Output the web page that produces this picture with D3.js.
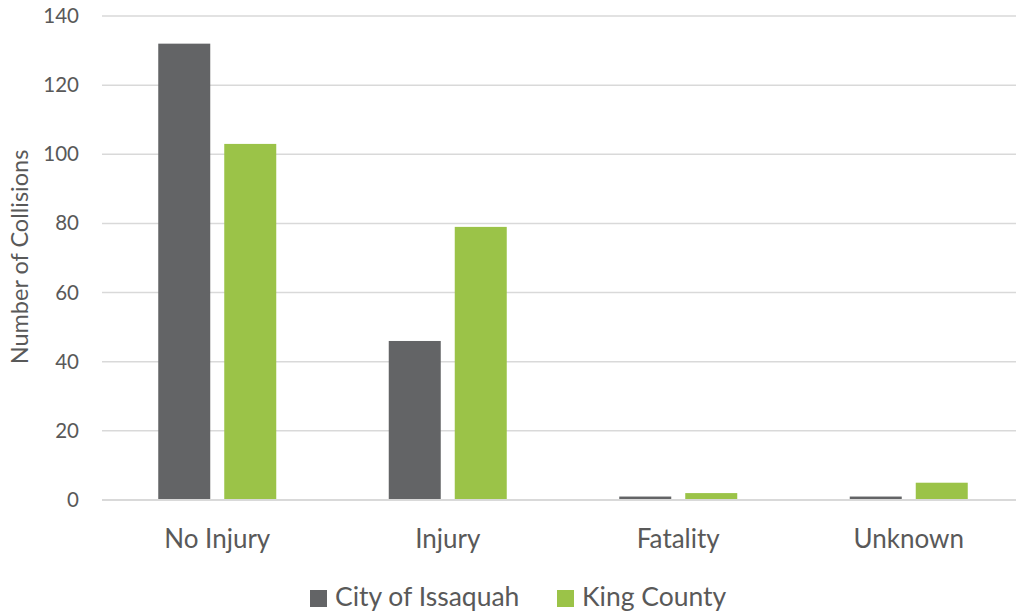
<!DOCTYPE html>
<html>
<head>
<meta charset="utf-8">
<script src="https://cdn.jsdelivr.net/npm/d3@7"></script>
<style>
  body { margin: 0; background: #fff; }
  text { font-family: Lato, "Open Sans", sans-serif; fill: #595959; }
</style>
</head>
<body>
<svg width="1016" height="614"></svg>
<script>
var categories = ["No Injury", "Injury", "Fatality", "Unknown"];
var seriesNames = ["City of Issaquah", "King County"];
var cityValues = [132, 46, 1, 1];
var kingValues = [103, 79, 2, 5];
var yTicks = [0, 20, 40, 60, 80, 100, 120, 140];
var colors = ["#636466", "#9bc348"];

var svg = d3.select("svg");

var x = d3.scaleBand()
    .domain(categories)
    .range([102, 1024]);

var y = d3.scaleLinear()
    .domain([0, 140])
    .range([500, 16]);

var barW = 52, innerGap = 14;

// gridlines
svg.append("g")
    .selectAll("line")
    .data(yTicks.filter(function(d) { return d > 0; }))
    .enter().append("line")
    .attr("x1", 102).attr("x2", 1016)
    .attr("y1", function(d) { return y(d); })
    .attr("y2", function(d) { return y(d); })
    .attr("stroke", "#d9d9d9")
    .attr("stroke-width", 1.5);

// y tick labels
svg.append("g")
    .selectAll("text")
    .data(yTicks)
    .enter().append("text")
    .attr("x", 79)
    .attr("y", function(d) { return y(d) + 7; })
    .attr("text-anchor", "end")
    .style("font-size", "20.5px")
    .text(function(d) { return d; });

// bars
var rows = categories.map(function(c, i) {
    return { cat: c, vals: [cityValues[i], kingValues[i]] };
});

var groups = svg.append("g")
    .selectAll("g")
    .data(rows)
    .enter().append("g")
    .attr("transform", function(d) {
        var cx = x(d.cat) + x.bandwidth() / 2;
        return "translate(" + (cx - barW - innerGap / 2) + ",0)";
    });

groups.selectAll("rect")
    .data(function(d) { return d.vals; })
    .enter().append("rect")
    .attr("x", function(d, i) { return i * (barW + innerGap); })
    .attr("y", function(d) { return y(d); })
    .attr("width", barW)
    .attr("height", function(d) { return y(0) - y(d); })
    .attr("fill", function(d, i) { return colors[i]; });

// baseline
svg.append("line")
    .attr("x1", 102).attr("x2", 1016)
    .attr("y1", y(0)).attr("y2", y(0))
    .attr("stroke", "#d9d9d9")
    .attr("stroke-width", 2);

// category labels
svg.append("g")
    .selectAll("text")
    .data(categories)
    .enter().append("text")
    .attr("x", function(d) { return x(d) + x.bandwidth() / 2; })
    .attr("y", 548)
    .attr("text-anchor", "middle")
    .style("font-size", "26px")
    .text(function(d) { return d; });

// y axis title
svg.append("text")
    .attr("transform", "translate(20,257) rotate(-90)")
    .attr("dy", "0.35em")
    .attr("text-anchor", "middle")
    .style("font-size", "23.5px")
    .text("Number of Collisions");

// legend
var legendX = [310, 557];
var legend = svg.append("g")
    .selectAll("g")
    .data(seriesNames)
    .enter().append("g")
    .attr("transform", function(d, i) { return "translate(" + legendX[i] + ",606)"; });

legend.append("rect")
    .attr("x", 0).attr("y", -16)
    .attr("width", 17).attr("height", 17)
    .attr("fill", function(d, i) { return colors[i]; });

legend.append("text")
    .attr("x", 25)
    .style("font-size", "26.5px")
    .text(function(d) { return d; });
</script>
</body>
</html>
